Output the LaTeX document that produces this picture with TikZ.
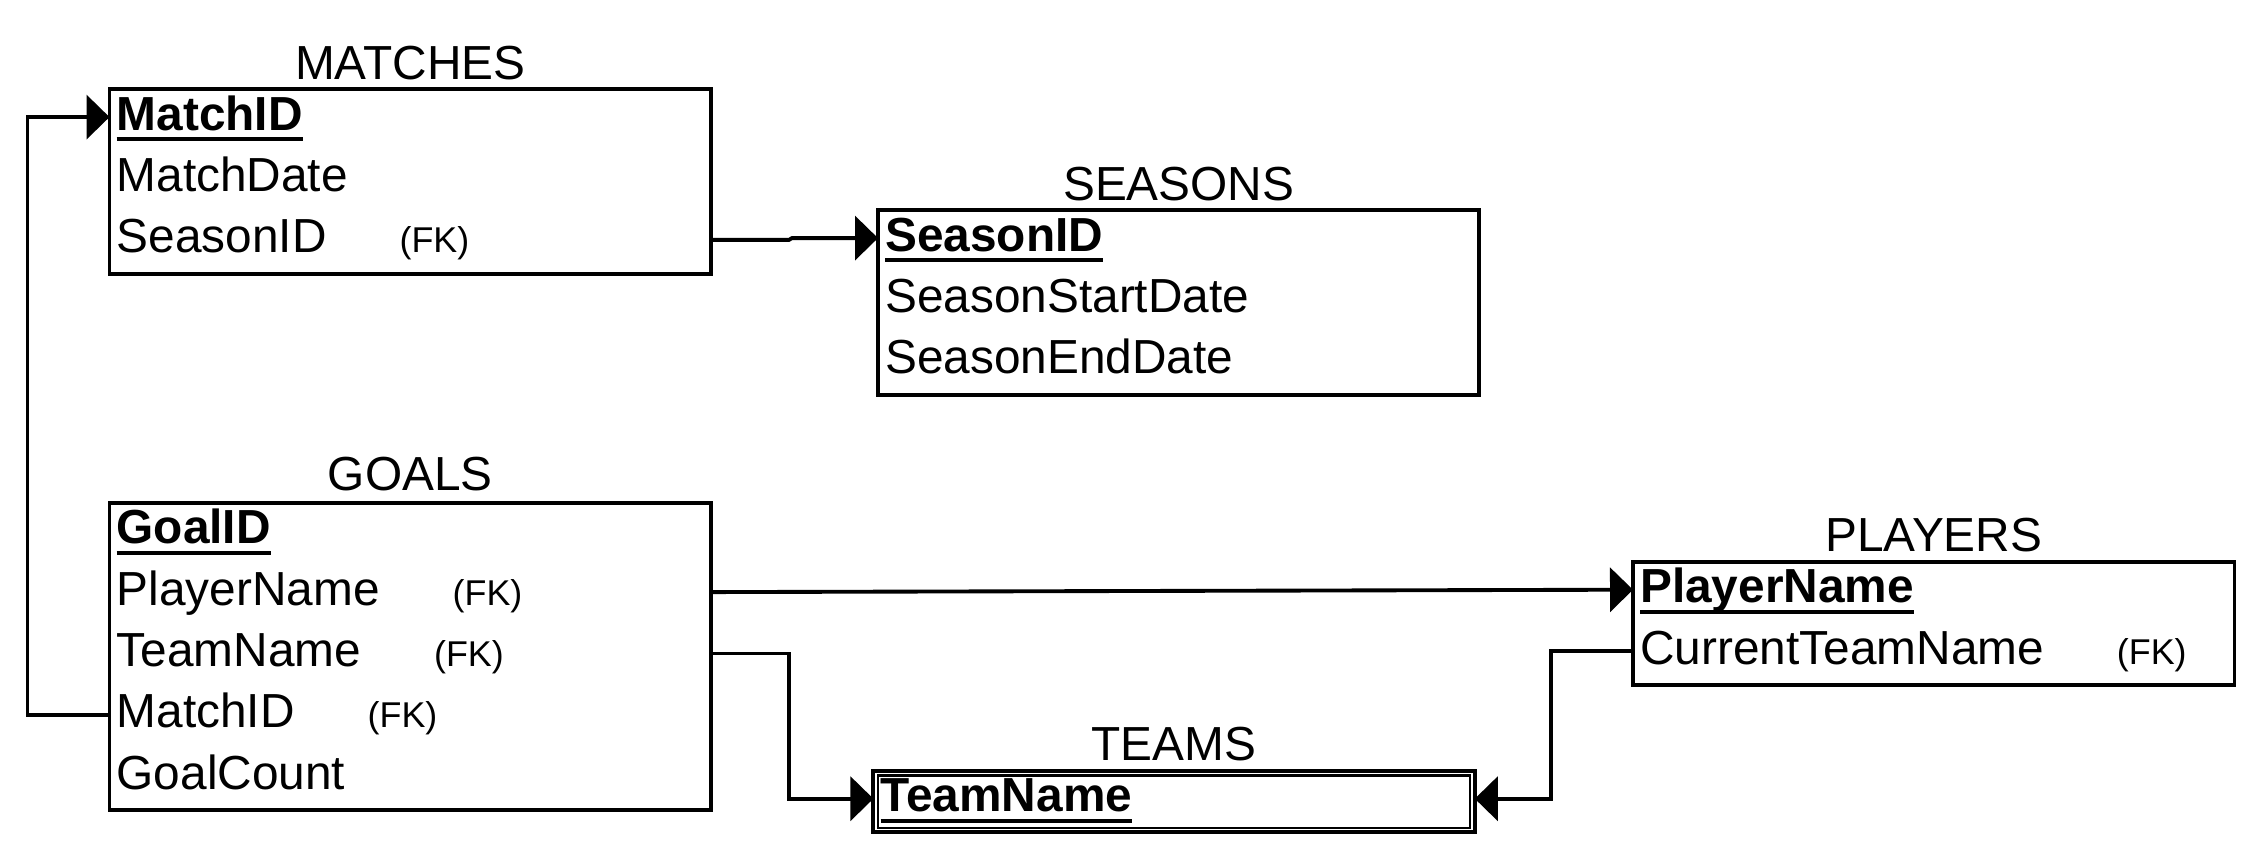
\documentclass[tikz,border=0pt]{standalone}
\usepackage{fontspec}
\setmainfont{Liberation Sans}
\usetikzlibrary{arrows.meta,calc,positioning}
\newsavebox\pkbox
\newcommand\pk[1]{\sbox\pkbox{\bfseries #1}\rlap{\rule[-0.11cm]{\wd\pkbox}{0.04cm}}\usebox\pkbox}
\newcommand\fk{\hspace{0.73cm}{\fontsize{10.2}{12}\selectfont(FK)}}
\tikzset{
	field/.style={minimum width=6cm, minimum height=0.6cm, text width=5.87cm, inner xsep=0.065cm, inner ysep=0pt, align=left, text height=0.32cm, text depth=0.12cm, font=\fontsize{13.6}{16}\selectfont},
	tbl/.style={line width=1.1pt},
	title/.style={anchor=base, inner sep=0pt, font=\fontsize{13.6}{16}\selectfont},
	link/.style={line width=1.1pt, transform canvas={yshift=0.03cm}, -{Triangle[length=0.23cm,width=0.44cm]}},
}

\begin{document}
\begin{tikzpicture}
		%%%%% START %%%%%
		\useasboundingbox (0,0) rectangle (22.6,-8.58);
		
		% MATCHES
		\node[field, anchor=north west] (m1) at (1.095,-0.894) {\pk{MatchID}};
		\node[field, below=0pt of m1] (m2) {MatchDate};
		\node[field, below=0pt of m2] (m3) {SeasonID\fk};
		\draw[tbl] (m1.north west) rectangle (m3.south east);
		\node[title] (matches) at ($(m1.north)+(0,0.1)$) {MATCHES};
		
		% SEASONS
		\node[field, anchor=north west] (s1) at (8.78,-2.104) {\pk{SeasonID}};
		\node[field, below=0pt of s1] (s2) {SeasonStartDate};
		\node[field, below=0pt of s2] (s3) {SeasonEndDate};
		\draw[tbl] (s1.north west) rectangle (s3.south east);
		\node[title] (seasons) at ($(s1.north)+(0,0.1)$) {SEASONS};
		
		% GOALS
		\node[field, anchor=north west] (g1) at (1.095,-5.03) {\pk{GoalID}};
		\node[field, below=0pt of g1] (g2) {PlayerName\fk};
		\node[field, below=0pt of g2] (g3) {TeamName\fk};
		\node[field, below=0pt of g3] (g4) {MatchID\fk};
		\node[field, below=0pt of g4] (g5) {GoalCount};
		\draw[tbl] (g1.north west) rectangle (g5.south east);
		\node[title] (goals) at ($(g1.north)+(0,0.12)$) {GOALS};
		
		% PLAYERS
		\node[field, anchor=north west] (p1) at (16.33,-5.62) {\pk{PlayerName}};
		\node[field, below=0pt of p1] (p2) {CurrentTeamName\fk};
		\draw[tbl] (p1.north west) rectangle (p2.south east);
		\node[title] (players) at ($(p1.north)+(0,0.1)$) {PLAYERS};
		
		% TEAMS (double border)
		\node[field, anchor=north west] (t1) at (8.734,-7.71) {\pk{TeamName}};
		\draw[tbl] (t1.north west) rectangle (t1.south east);
		\draw[line width=0.6pt] ($(t1.north west)+(0.045,-0.045)$) rectangle ($(t1.south east)+(-0.045,0.045)$);
		\node[title] (teams) at ($(t1.north)+(0,0.1)$) {TEAMS};
		
		% links
		\draw[link] (g4.west) -- ++(-0.82,0) |- (m1.west);
		\draw[link] (m3.east) -- ++(0.78,0) -- ($(s1.west)+(-0.86,0)$) -- (s1.west);
		\draw[link] (g2.east) -- (p1.west);
		\draw[link] (g3.east) -- ++(0.78,0) |- (t1.west);
		\draw[link] (p2.west) -- ++(-0.82,0) |- (t1.east);
		
		%%%%% END %%%%%
\end{tikzpicture}
\end{document}
